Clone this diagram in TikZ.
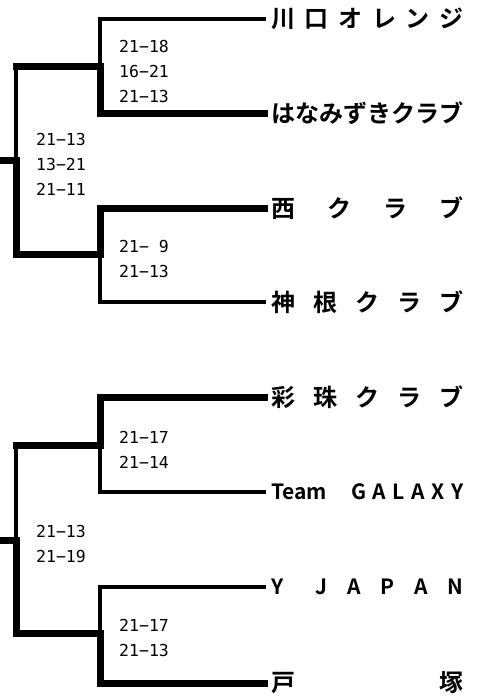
\documentclass[tikz,border=0pt]{standalone}
\usepackage{fontspec}
\newfontfamily\jpbold{Noto Sans CJK JP Bold}
\newfontfamily\scorefont{DejaVu Sans Mono}
\begin{document}
\begin{tikzpicture}[x=1pt,y=-1pt,
  thinline/.style={line width=3.3pt, line cap=rect, line join=miter},
  thickline/.style={line width=7pt, line cap=rect, line join=miter},
  team/.style={anchor=west, inner xsep=7pt, inner ysep=0pt, font=\jpbold\fontsize{24}{24}\selectfont},
  teamlatin/.style={team, font=\jpbold\fontsize{21}{21}\selectfont},
  score/.style={anchor=west, inner sep=0pt, align=left, font=\scorefont\fontsize{16.5}{25}\selectfont}]
\useasboundingbox (0,0) rectangle (482,696);

% team names
\node[team] (t1) at (264,19)  {\makebox[192pt][l]{川\hfill 口\hfill オ\hfill レ\hfill ン\hfill ジ}};
\node[team] (t2) at (264,113) {\makebox[192pt][l]{は\hfill な\hfill み\hfill ず\hfill き\hfill ク\hfill ラ\hfill ブ}};
\node[team] (t3) at (264,208) {\makebox[192pt][l]{西\hfill ク\hfill ラ\hfill ブ}};
\node[team] (t4) at (264,302) {\makebox[192pt][l]{神\hfill 根\hfill ク\hfill ラ\hfill ブ}};
\node[team] (t5) at (264,397) {\makebox[192pt][l]{彩\hfill 珠\hfill ク\hfill ラ\hfill ブ}};
\node[teamlatin] (t6) at (264,492) {\makebox[192pt][l]{Team\hspace{24pt}G\hfill A\hfill L\hfill A\hfill X\hfill Y}};
\node[teamlatin] (t7) at (264,587) {\makebox[192pt][l]{Y\hspace{32pt}J\hfill A\hfill P\hfill A\hfill N}};
\node[team] (t8) at (264,683) {\makebox[192pt][l]{戸\hfill 塚}};

% junctions
\coordinate (s1) at (100,66);
\coordinate (s2) at (100,254);
\coordinate (a1) at (16,66);
\coordinate (b1) at (16,254);
\coordinate (f1) at (16,160);
\coordinate (w1) at (0,160);
\coordinate (s3) at (100,445);
\coordinate (s4) at (100,633);
\coordinate (a2) at (16,445);
\coordinate (b2) at (16,633);
\coordinate (f2) at (16,540);
\coordinate (w2) at (0,540);

% thin lines
\draw[thinline] (t1.west) -| (s1);
\draw[thinline] (t4.west) -| (s2);
\draw[thinline] (a1) -- (f1);
\draw[thinline] (t6.west) -| (s3);
\draw[thinline] (t7.west) -| (s4);
\draw[thinline] (a2) -- (f2);

% thick lines
\draw[thickline] (t2.west) -| (s1) -- (a1);
\draw[thickline] (t3.west) -| (s2) -- (b1) -- (f1) -- (w1);
\draw[thickline] (t5.west) -| (s3) -- (a2);
\draw[thickline] (t8.west) -| (s4) -- (b2) -- (f2) -- (w2);

% scores
\node[score] (sc1) at (119,71) {21−18\\16−21\\21−13};
\node[score] (scf1) at (36,164) {21−13\\13−21\\21−11};
\node[score] (sc2) at (119,258.5) {21−\ 9\\21−13};
\node[score] (sc3) at (119,449.5) {21−17\\21−14};
\node[score] (scf2) at (36,543.5) {21−13\\21−19};
\node[score] (sc4) at (119,637.5) {21−17\\21−13};
\end{tikzpicture}
\end{document}
